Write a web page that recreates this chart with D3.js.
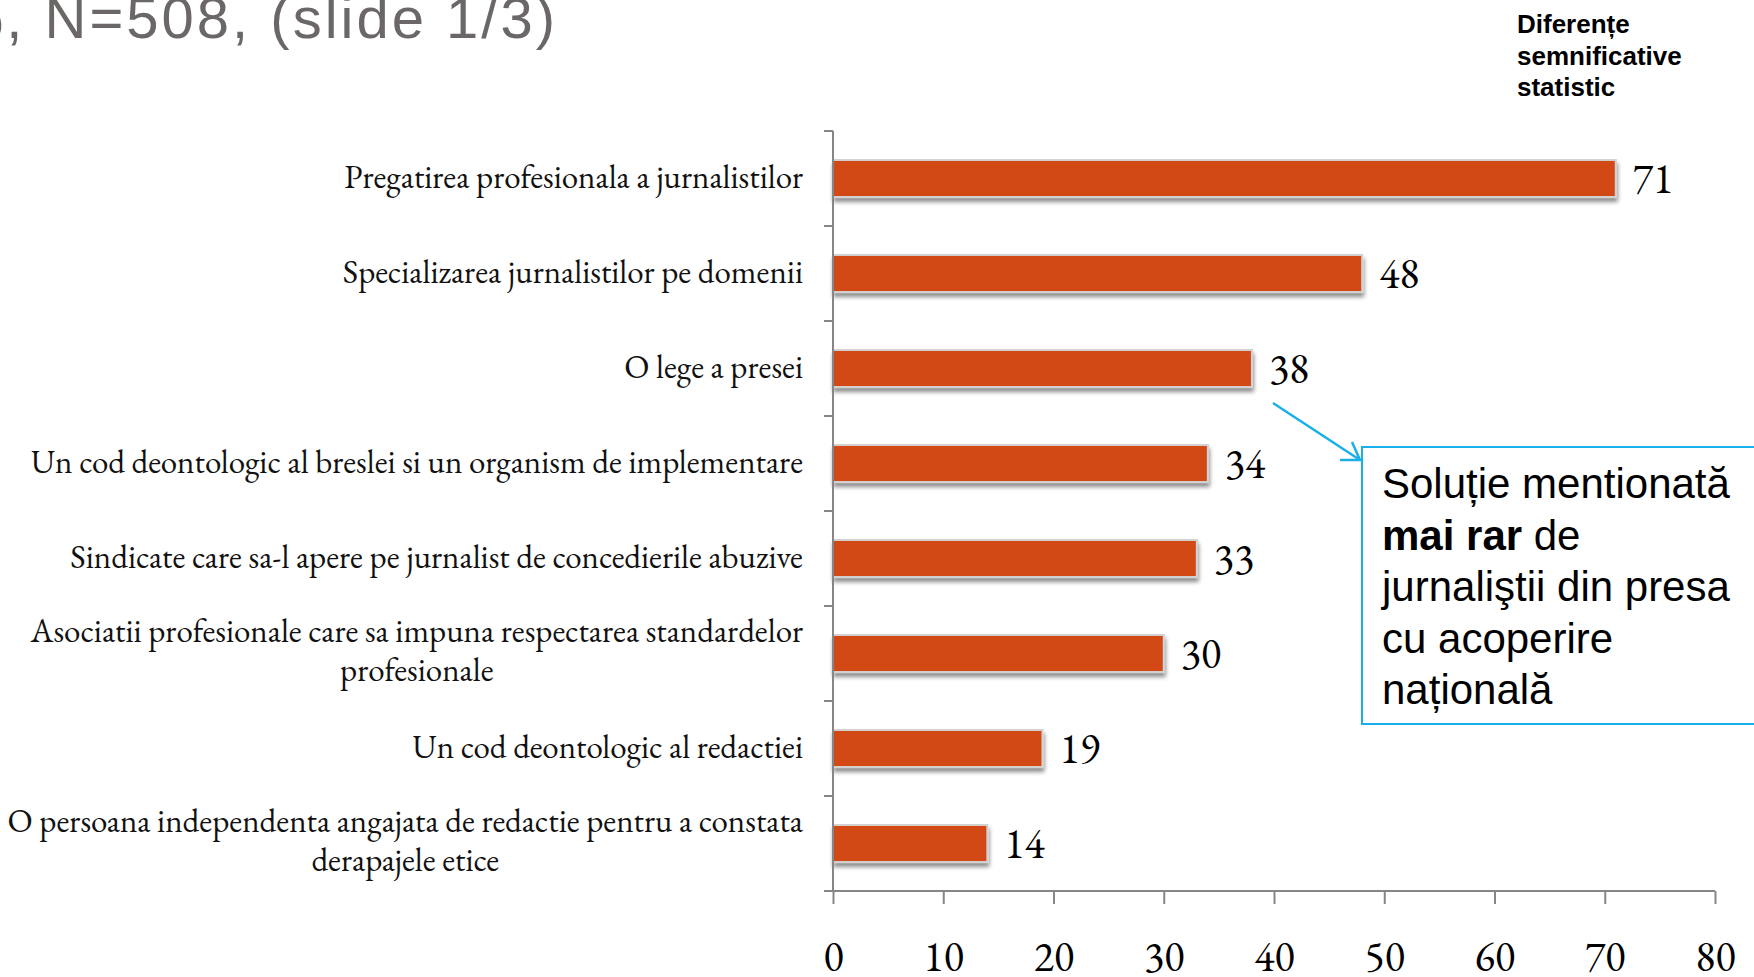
<!DOCTYPE html>
<html>
<head>
<meta charset="utf-8">
<script src="https://cdn.jsdelivr.net/npm/d3@7"></script>
<style>
  html, body { margin: 0; padding: 0; background: #ffffff; overflow: hidden; }
  svg { display: block; }
</style>
</head>
<body>
<svg id="chart" width="1754" height="977"></svg>
<script>
// Solutions proposed by journalists (% of respondents)
const categories = [
  ["Pregatirea profesionala a jurnalistilor"],
  ["Specializarea jurnalistilor pe domenii"],
  ["O lege a presei"],
  ["Un cod deontologic al breslei si un organism de implementare"],
  ["Sindicate care sa-l apere pe jurnalist de concedierile abuzive"],
  ["Asociatii profesionale care sa impuna respectarea standardelor", "profesionale"],
  ["Un cod deontologic al redactiei"],
  ["O persoana independenta angajata de redactie pentru a constata", "derapajele etice"]
];
const values = [71, 48, 38, 34, 33, 30, 19, 14];
const xTicks = [0, 10, 20, 30, 40, 50, 60, 70, 80];

const titleText = "%, N=508, (slide 1/3)";
const noteLines = ["Diferențe", "semnificative", "statistic"];
const calloutLines = [
  [{t: "Soluție mentionată", b: false}],
  [{t: "mai rar", b: true}, {t: " de", b: false}],
  [{t: "jurnaliştii din presa", b: false}],
  [{t: "cu acoperire", b: false}],
  [{t: "națională", b: false}]
];

const svg = d3.select("#chart");
const plot = {left: 833, right: 1715, top: 131, bottom: 891};

const x = d3.scaleLinear().domain([0, 80]).range([plot.left, plot.right]);
const y = d3.scaleBand().domain(d3.range(categories.length))
  .range([plot.top, plot.bottom]).paddingInner(0.61).paddingOuter(0.305);

const serif = "'EB Garamond', Garamond, 'Liberation Serif', 'DejaVu Serif', serif";
const sans = "'Liberation Sans', Arial, sans-serif";

// drop shadow for bars
const defs = svg.append("defs");
const f = defs.append("filter").attr("id", "barShadow")
  .attr("x", "-5%").attr("y", "-20%").attr("width", "115%").attr("height", "160%");
f.append("feGaussianBlur").attr("in", "SourceAlpha").attr("stdDeviation", 2.2).attr("result", "blur");
f.append("feOffset").attr("in", "blur").attr("dx", 1).attr("dy", 4).attr("result", "off");
f.append("feComponentTransfer").attr("in", "off").attr("result", "shadow")
  .append("feFuncA").attr("type", "linear").attr("slope", 0.45);
const m = f.append("feMerge");
m.append("feMergeNode").attr("in", "shadow");
m.append("feMergeNode").attr("in", "SourceGraphic");

// title (runs past the left edge of the slide)
svg.append("text")
  .attr("x", 558).attr("y", 38)
  .attr("text-anchor", "end")
  .attr("font-family", sans)
  .attr("font-size", 58)
  .attr("letter-spacing", 3)
  .attr("fill", "#6b6766")
  .text(titleText);

// significance note
svg.append("g").selectAll("text").data(noteLines).join("text")
  .attr("x", 1517).attr("y", (d, i) => 33 + i * 31.5)
  .attr("font-family", sans).attr("font-weight", "bold")
  .attr("font-size", 26).attr("fill", "#000")
  .text(d => d);

// bars
svg.append("g").selectAll("rect").data(values).join("rect")
  .attr("x", x(0))
  .attr("y", (d, i) => y(i))
  .attr("width", d => x(d) - x(0))
  .attr("height", y.bandwidth())
  .attr("fill", "#d24a18")
  .attr("stroke", "#d2d2d2")
  .attr("stroke-width", 2)
  .attr("filter", "url(#barShadow)");

// value labels
svg.append("g").selectAll("text").data(values).join("text")
  .attr("x", d => x(d) + 17)
  .attr("y", (d, i) => y(i) + y.bandwidth() / 2 + 14)
  .attr("font-family", serif)
  .attr("font-size", 42)
  .attr("fill", "#000")
  .text(d => d);

// y axis line and ticks
const axisColor = "#868686";
const yAxis = svg.append("g");
yAxis.append("line")
  .attr("x1", plot.left).attr("x2", plot.left)
  .attr("y1", plot.top).attr("y2", plot.bottom)
  .attr("stroke", axisColor).attr("stroke-width", 2);
const bounds = d3.range(categories.length + 1).map(i => plot.top + i * y.step());
yAxis.selectAll("line.tick").data(bounds).join("line").attr("class", "tick")
  .attr("x1", plot.left - 9).attr("x2", plot.left)
  .attr("y1", d => d).attr("y2", d => d)
  .attr("stroke", axisColor).attr("stroke-width", 2);

// category labels (right aligned block, lines centered)
const labelG = svg.append("g")
  .attr("font-family", serif).attr("font-size", 33).attr("fill", "#111");
categories.forEach((lines, i) => {
  const cy = y(i) + y.bandwidth() / 2;
  const lh = 39;
  const base = cy + 9 - (lines.length - 1) * lh / 2 - (lines.length > 1 ? 1 : 0);
  const t = labelG.append("text").attr("y", base);
  if (lines.length === 1) {
    t.attr("x", 803).attr("text-anchor", "end").text(lines[0]);
  } else {
    // measure the widest line so the block stays right-aligned
    t.attr("x", 803).attr("text-anchor", "end").text(lines[0]);
    const w = t.node().getComputedTextLength();
    t.text(null).attr("text-anchor", "middle").attr("x", 803 - w / 2);
    lines.forEach((ln, j) => {
      t.append("tspan").attr("x", 803 - w / 2).attr("dy", j === 0 ? 0 : lh).text(ln);
    });
  }
});

// x axis
const xAxis = svg.append("g").attr("transform", `translate(0,${plot.bottom})`)
  .call(d3.axisBottom(x).tickValues(xTicks).tickSize(13).tickPadding(30).tickSizeOuter(0));
xAxis.select(".domain").attr("stroke", axisColor).attr("stroke-width", 2)
  .attr("d", `M${plot.left - 9},0H${plot.right}`);
xAxis.selectAll(".tick line").attr("stroke", axisColor).attr("stroke-width", 2);
xAxis.selectAll(".tick text")
  .attr("font-family", serif).attr("font-size", 42).attr("fill", "#000")
  .attr("dy", null).attr("y", 80);

// callout arrow
const blue = "#19b0ea";
svg.append("line")
  .attr("x1", 1273).attr("y1", 403).attr("x2", 1360).attr("y2", 460)
  .attr("stroke", blue).attr("stroke-width", 2.5);
svg.append("path")
  .attr("d", "M1340,460 L1360,460 L1352,442")
  .attr("fill", "none").attr("stroke", blue).attr("stroke-width", 2.5)
  .attr("stroke-linejoin", "miter");

// callout box
svg.append("rect")
  .attr("x", 1362).attr("y", 447).attr("width", 420).attr("height", 277)
  .attr("fill", "#fff").attr("stroke", blue).attr("stroke-width", 2);
const call = svg.append("g").attr("font-family", sans).attr("font-size", 42).attr("fill", "#000");
calloutLines.forEach((parts, i) => {
  const t = call.append("text").attr("x", 1382).attr("y", 498 + i * 51.5);
  parts.forEach(p => {
    t.append("tspan").attr("font-weight", p.b ? "bold" : "normal").text(p.t);
  });
});
</script>
</body>
</html>
